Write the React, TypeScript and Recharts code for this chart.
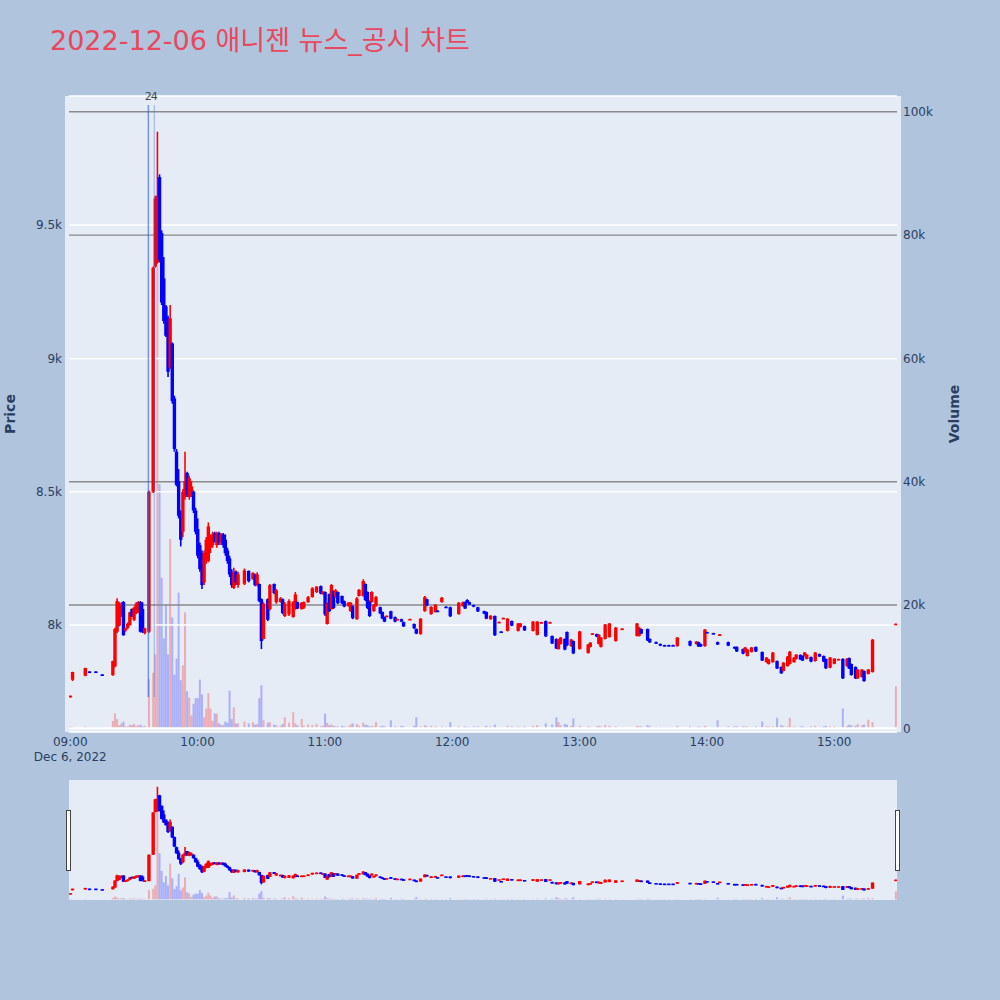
import React from "react";
import { Bar, CartesianGrid, ComposedChart, ReferenceLine, XAxis, YAxis } from "recharts";

// [minute after 09:00, open, high, low, close, volume]
type Row = [number, number, number, number, number, number];

const h09: Row[] = [
  [0, 7730, 7736, 7728, 7735, 300], [1, 7795, 7825, 7790, 7824, 200], [7, 7810, 7840, 7808, 7839, 300],
  [9, 7826, 7827, 7820, 7822, 100], [12, 7826, 7827, 7822, 7823, 100], [15, 7815, 7816, 7810, 7812, 100],
  [20, 7812, 7866, 7810, 7865, 1200], [21, 7845, 7990, 7842, 7985, 2400], [22, 7975, 8101, 7970, 8090, 1500],
  [23, 7998, 8086, 7995, 8080, 500], [24, 8040, 8086, 8030, 8080, 800], [25, 8086, 8090, 7960, 7962, 1100],
  [26, 7980, 7990, 7975, 7988, 300], [27, 7990, 8010, 7985, 8005, 300], [28, 8000, 8050, 7998, 8048, 600],
  [29, 8060, 8062, 8030, 8032, 500], [30, 8020, 8070, 8015, 8065, 700], [31, 8045, 8086, 8040, 8080, 400],
  [32, 8050, 8090, 8045, 8086, 500], [33, 8086, 8090, 7972, 7975, 600], [34, 8060, 8086, 7970, 7980, 300],
  [35, 7970, 7990, 7965, 7988, 400], [37, 7975, 8505, 7970, 8500, 8000], [39, 8500, 9345, 8495, 9340, 9000],
  [40, 9345, 9610, 9340, 9600, 12000], [41, 9360, 9850, 9355, 9610, 75000], [42, 9680, 9690, 9360, 9370, 39600],
  [43, 9470, 9480, 9200, 9210, 24400], [44, 9300, 9380, 9130, 9140, 14600], [45, 9195, 9200, 9080, 9085, 20000],
  [46, 9150, 9160, 8930, 8950, 12000], [47, 8966, 9200, 8960, 9150, 30700], [48, 9056, 9060, 8830, 8840, 18000],
  [49, 8850, 8860, 8650, 8660, 8700], [50, 8650, 8660, 8520, 8525, 11300], [51, 8540, 8585, 8400, 8410, 22000],
  [52, 8420, 8430, 8295, 8320, 7800], [53, 8350, 8510, 8330, 8500, 10200], [54, 8480, 8650, 8470, 8540, 18800],
  [55, 8570, 8575, 8480, 8490, 6000], [56, 8480, 8560, 8470, 8550, 5000], [57, 8500, 8540, 8480, 8520, 2100],
  [58, 8500, 8505, 8420, 8430, 4000], [59, 8430, 8440, 8340, 8350, 4900],
];

const h10: Row[] = [
  [60, 8360, 8400, 8250, 8260, 4900], [61, 8300, 8310, 8200, 8210, 7900], [62, 8270, 8280, 8135, 8150, 5500],
  [63, 8160, 8280, 8150, 8270, 1800], [64, 8240, 8330, 8230, 8320, 3200], [65, 8240, 8385, 8235, 8370, 5700],
  [66, 8290, 8340, 8270, 8330, 3200], [67, 8300, 8350, 8290, 8340, 1200], [68, 8345, 8350, 8310, 8315, 2400],
  [69, 8300, 8350, 8290, 8340, 2400], [70, 8345, 8350, 8300, 8310, 800], [71, 8310, 8345, 8300, 8340, 600],
  [72, 8340, 8345, 8290, 8300, 500], [73, 8320, 8340, 8260, 8270, 1100], [74, 8280, 8290, 8230, 8240, 900],
  [75, 8250, 8260, 8180, 8190, 6100], [76, 8200, 8210, 8140, 8150, 1500], [77, 8140, 8215, 8135, 8200, 3400],
  [78, 8200, 8205, 8150, 8160, 800], [79, 8150, 8200, 8140, 8190, 800], [82, 8155, 8212, 8150, 8205, 1100],
  [84, 8203, 8205, 8160, 8165, 800], [86, 8172, 8198, 8170, 8195, 1000], [87, 8190, 8192, 8146, 8150, 600],
  [88, 8150, 8198, 8146, 8190, 700], [89, 8154, 8156, 8086, 8090, 4900], [90, 8097, 8100, 7910, 7940, 7000],
  [91, 7948, 8086, 7946, 8080, 1300], [93, 8097, 8100, 8015, 8020, 900], [94, 8060, 8154, 8055, 8150, 1000],
  [96, 8154, 8156, 8116, 8120, 600], [97, 8086, 8135, 8080, 8130, 500], [99, 8086, 8105, 8084, 8100, 400],
  [100, 8097, 8100, 8041, 8045, 700], [101, 8034, 8086, 8030, 8080, 1800], [103, 8040, 8097, 8034, 8090, 900],
  [105, 8030, 8090, 8028, 8085, 2600], [106, 8060, 8124, 8058, 8115, 800], [107, 8086, 8088, 8060, 8062, 500],
  [109, 8060, 8086, 8058, 8084, 1500], [110, 8065, 8088, 8060, 8086, 400], [112, 8086, 8109, 8084, 8105, 600],
  [114, 8105, 8142, 8103, 8138, 500], [116, 8124, 8146, 8120, 8144, 700], [118, 8146, 8148, 8116, 8118, 300],
  [119, 8116, 8127, 8114, 8126, 400],
];

const h11: Row[] = [
  [120, 8124, 8126, 8034, 8040, 2400], [121, 8004, 8086, 8002, 8080, 900], [122, 8116, 8118, 8049, 8052, 500],
  [123, 8060, 8154, 8058, 8150, 600], [124, 8127, 8130, 8060, 8064, 400], [125, 8105, 8135, 8103, 8130, 300],
  [126, 8124, 8126, 8079, 8082, 300], [128, 8109, 8111, 8079, 8082, 400], [129, 8090, 8092, 8067, 8070, 300],
  [131, 8071, 8086, 8069, 8084, 300], [132, 8052, 8086, 8050, 8084, 600], [133, 8071, 8074, 8022, 8026, 800],
  [135, 8022, 8105, 8020, 8100, 700], [136, 8109, 8135, 8107, 8132, 400], [138, 8109, 8172, 8107, 8165, 900],
  [139, 8154, 8156, 8090, 8094, 600], [140, 8124, 8126, 8060, 8064, 500], [141, 8090, 8092, 8030, 8034, 300],
  [142, 8086, 8127, 8084, 8124, 400], [143, 8052, 8079, 8050, 8076, 300], [144, 8071, 8109, 8069, 8105, 1000],
  [146, 8067, 8069, 8041, 8044, 300], [147, 8049, 8051, 8022, 8025, 400], [148, 8030, 8032, 8011, 8013, 300],
  [149, 8032, 8036, 8031, 8035, 100], [151, 8052, 8054, 8022, 8024, 1300], [153, 8030, 8032, 8011, 8013, 300],
  [154, 8020, 8024, 8019, 8023, 100], [156, 8022, 8024, 8011, 8013, 400], [157, 8011, 8013, 7993, 7995, 300],
  [160, 8020, 8024, 8019, 8023, 100], [162, 8004, 8006, 7985, 7988, 400], [163, 7985, 7987, 7966, 7968, 1800],
  [165, 7966, 8026, 7964, 8024, 300], [167, 8052, 8109, 8050, 8105, 500], [168, 8097, 8099, 8071, 8074, 300],
  [170, 8041, 8071, 8039, 8068, 400], [172, 8049, 8079, 8047, 8076, 300], [173, 8054, 8056, 8050, 8052, 200],
  [175, 8086, 8105, 8084, 8103, 300], [177, 8069, 8071, 8065, 8066, 200], [179, 8067, 8069, 8030, 8033, 1000],
];

const h12: Row[] = [
  [183, 8041, 8086, 8039, 8084, 300], [185, 8071, 8088, 8069, 8086, 200], [186, 8086, 8088, 8060, 8062, 300],
  [187, 8094, 8097, 8082, 8084, 200], [188, 8086, 8088, 8075, 8077, 200], [190, 8075, 8077, 8067, 8069, 300],
  [192, 8067, 8069, 8049, 8051, 300], [195, 8052, 8054, 8041, 8043, 200], [196, 8049, 8051, 8022, 8024, 400],
  [198, 8022, 8037, 8020, 8035, 300], [200, 8034, 8036, 7959, 7962, 600], [202, 8010, 8013, 8009, 8012, 100],
  [203, 7976, 7977, 7972, 7973, 100], [204, 8024, 8028, 8023, 8027, 100], [206, 7978, 8026, 7976, 8024, 400],
  [208, 8015, 8017, 7996, 7998, 300], [211, 7978, 8008, 7976, 8006, 300], [212, 7993, 8008, 7991, 8006, 200],
  [214, 7996, 7998, 7978, 7980, 300], [218, 7978, 8015, 7976, 8013, 400], [220, 7963, 8015, 7961, 8013, 500],
  [222, 8008, 8012, 8007, 8011, 100], [224, 8015, 8017, 7955, 7958, 800], [226, 8008, 8012, 8007, 8011, 100],
  [227, 7959, 7961, 7929, 7931, 600], [229, 7948, 7950, 7910, 7912, 1800], [230, 7910, 7948, 7908, 7946, 1000],
  [231, 7929, 7955, 7927, 7953, 500], [233, 7948, 7950, 7906, 7908, 700], [234, 7974, 7976, 7921, 7924, 600],
  [236, 7921, 7948, 7919, 7946, 400], [237, 7940, 7942, 7891, 7894, 1600],
];

const h13: Row[] = [
  [240, 7910, 7978, 7908, 7976, 400], [244, 7895, 7929, 7893, 7927, 300], [245, 7918, 7936, 7916, 7934, 200],
  [246, 7966, 7970, 7965, 7969, 100], [248, 7966, 7968, 7955, 7957, 300], [249, 7929, 7966, 7927, 7964, 400],
  [250, 7918, 7955, 7916, 7953, 300], [252, 7948, 8004, 7946, 8002, 500], [254, 7955, 8008, 7953, 8006, 400],
  [257, 7940, 7993, 7938, 7990, 300], [260, 7985, 7988, 7984, 7987, 100], [267, 7959, 8008, 7957, 8006, 400],
  [268, 7959, 7993, 7957, 7990, 300], [269, 7985, 7987, 7966, 7968, 300], [272, 7985, 7987, 7940, 7942, 500],
  [273, 7948, 7950, 7933, 7935, 300], [276, 7936, 7938, 7929, 7931, 200], [278, 7929, 7931, 7921, 7923, 200],
  [280, 7925, 7926, 7921, 7922, 200], [282, 7925, 7926, 7921, 7922, 200], [284, 7925, 7926, 7922, 7923, 100],
  [286, 7921, 7955, 7919, 7953, 400], [292, 7940, 7942, 7921, 7923, 300], [295, 7929, 7940, 7927, 7938, 200],
  [296, 7936, 7938, 7918, 7920, 300], [297, 7929, 7931, 7918, 7920, 200], [299, 7921, 7985, 7919, 7983, 400],
];

const h14: Row[] = [
  [300, 7974, 7975, 7971, 7972, 100], [303, 7970, 7971, 7967, 7968, 100], [305, 7936, 7938, 7925, 7927, 1300],
  [306, 7962, 7966, 7961, 7965, 100], [310, 7936, 7938, 7921, 7923, 300], [313, 7918, 7920, 7910, 7912, 300],
  [314, 7918, 7920, 7899, 7901, 300], [317, 7910, 7912, 7891, 7893, 300], [318, 7899, 7918, 7897, 7916, 300],
  [319, 7884, 7910, 7882, 7908, 300], [321, 7899, 7918, 7897, 7916, 200], [323, 7918, 7920, 7899, 7901, 300],
  [326, 7899, 7901, 7865, 7867, 1100], [328, 7861, 7880, 7859, 7878, 300], [329, 7854, 7873, 7852, 7871, 300],
  [331, 7861, 7899, 7859, 7897, 300], [333, 7865, 7867, 7835, 7837, 1700], [335, 7843, 7845, 7817, 7819, 500],
  [336, 7828, 7861, 7826, 7859, 400], [338, 7846, 7884, 7844, 7882, 300], [339, 7854, 7903, 7852, 7900, 1700],
  [341, 7861, 7880, 7859, 7878, 300], [342, 7873, 7891, 7871, 7889, 200], [344, 7888, 7890, 7869, 7871, 300],
  [345, 7884, 7886, 7865, 7867, 300], [346, 7884, 7899, 7882, 7897, 200], [347, 7873, 7891, 7871, 7889, 200],
  [349, 7880, 7882, 7861, 7863, 300], [351, 7865, 7899, 7863, 7897, 400], [353, 7891, 7893, 7880, 7882, 200],
  [355, 7884, 7886, 7861, 7863, 300], [356, 7873, 7875, 7835, 7838, 400], [358, 7840, 7880, 7838, 7878, 300],
];

const h15: Row[] = [
  [360, 7855, 7876, 7853, 7874, 300], [362, 7871, 7874, 7870, 7873, 100], [364, 7873, 7876, 7798, 7800, 3200],
  [366, 7846, 7876, 7844, 7874, 400], [367, 7876, 7878, 7835, 7837, 600], [368, 7854, 7856, 7810, 7813, 500],
  [370, 7843, 7845, 7798, 7800, 400], [371, 7800, 7835, 7798, 7833, 700], [373, 7805, 7835, 7803, 7833, 500],
  [374, 7828, 7830, 7787, 7790, 600], [376, 7817, 7835, 7815, 7833, 1400], [378, 7824, 7948, 7822, 7945, 1000],
  [389, 8002, 8006, 8001, 8005, 6800],
];

const priceTicks = [8000, 8500, 9000, 9500];
const volumeTicks = [0, 20000, 40000, 60000, 80000, 100000];
const timeTicks = [0, 60, 120, 180, 240, 300, 360];
const timeLabels = ["09:00", "10:00", "11:00", "12:00", "13:00", "14:00", "15:00"];
const dateLabel = "Dec 6, 2022";
const newsMinutes = [36.8, 39.6];
const newsLabels = ["2", "4"];
const newsColors = ["rgba(40, 90, 230, 0.6)", "rgba(40, 90, 230, 0.3)"];
const NEWS_TOP = 9950;
const NEWS_BOTTOM = 7730;

const title = "2022-12-06 애니젠 뉴스_공시 차트";

const TIME_DOMAIN: [number, number] = [-0.6, 389.6];
const PRICE_DOMAIN: [number, number] = [7599, 9984];
const VOL_DOMAIN: [number, number] = [-600, 102560];

const FONT = '"DejaVu Sans", "Noto Sans CJK KR", sans-serif';
const INK = "#2a3f5f";
const UP = "#ff0000";
const DOWN = "#0000ff";
const VOL_UP = "rgba(255, 0, 0, 0.27)";
const VOL_DOWN = "rgba(0, 0, 255, 0.25)";

const candles = [...h09, ...h10, ...h11, ...h12, ...h13, ...h14, ...h15].map(
  ([t, open, high, low, close, volume]) => ({ t, open, high, low, close, volume, up: close >= open })
);

function Candle(props: any) {
  const { x, y, width, height, payload } = props;
  if (x == null || y == null || !payload) return null;
  const { open, high, low, close, up } = payload;
  const top = Math.min(y, y + height);
  const span = Math.abs(height);
  const range = high - low;
  const py = (v: number) => (range > 0 ? top + ((high - v) / range) * span : top);
  const cx = x + width / 2;
  const color = up ? UP : DOWN;
  const bodyTop = py(Math.max(open, close));
  const bodyBottom = py(Math.min(open, close));
  return (
    <g>
      <line x1={cx} x2={cx} y1={top} y2={top + span} stroke={color} strokeWidth={1.6} />
      <rect x={cx - 1.7} y={bodyTop} width={3.4} height={Math.max(1.6, bodyBottom - bodyTop)} fill={color} />
    </g>
  );
}

function VolumeBar(props: any) {
  const { x, y, width, height, payload } = props;
  if (x == null || y == null || !payload) return null;
  const cx = x + width / 2;
  return (
    <rect
      x={cx - 1}
      y={Math.min(y, y + height)}
      width={2}
      height={Math.abs(height)}
      fill={payload.up ? VOL_UP : VOL_DOWN}
    />
  );
}

function TimeTick({ x, y, payload }: any) {
  const i = timeTicks.indexOf(payload.value);
  return (
    <g>
      <text x={x} y={y + 14} textAnchor="middle" fill={INK} fontSize={12} fontFamily={FONT}>
        {timeLabels[i]}
      </text>
      {i === 0 && (
        <text x={x} y={y + 29} textAnchor="middle" fill={INK} fontSize={12} fontFamily={FONT}>
          {dateLabel}
        </text>
      )}
    </g>
  );
}

const fmtPrice = (v: number) => `${v / 1000}k`;
const fmtVolume = (v: number) => (v === 0 ? "0" : `${v / 1000}k`);

function VolumeLayer({ height, mini }: { height: number; mini?: boolean }) {
  const margin = mini
    ? { top: 0, right: 103, bottom: 0, left: 69 }
    : { top: 96, right: 43, bottom: 48, left: 69 };
  return (
    <ComposedChart width={1000} height={height} data={candles} margin={margin}>
      <XAxis type="number" dataKey="t" domain={TIME_DOMAIN} allowDataOverflow hide />
      <YAxis
        yAxisId="vol"
        orientation="right"
        domain={VOL_DOMAIN}
        ticks={volumeTicks}
        allowDataOverflow
        hide={mini}
        width={60}
        axisLine={false}
        tickLine={false}
        tickSize={0}
        tickMargin={6}
        tickFormatter={fmtVolume}
        tick={{ fill: INK, fontSize: 12, fontFamily: FONT, textAnchor: "start" }}
      />
      {!mini &&
        volumeTicks.map((v) => (
          <ReferenceLine
            key={v}
            yAxisId="vol"
            y={v}
            stroke={v === 0 ? "#ffffff" : "#8a8a8a"}
            strokeWidth={v === 0 ? 2 : 1.4}
          />
        ))}
      <Bar yAxisId="vol" dataKey="volume" shape={<VolumeBar />} isAnimationActive={false} />
    </ComposedChart>
  );
}

function PriceLayer({ height, mini }: { height: number; mini?: boolean }) {
  const margin = mini
    ? { top: 0, right: 103, bottom: 0, left: 69 }
    : { top: 96, right: 103, bottom: 18, left: 19 };
  return (
    <ComposedChart width={1000} height={height} data={candles} margin={margin}>
      {!mini && <CartesianGrid vertical={false} stroke="#ffffff" strokeWidth={1.6} />}
      <XAxis
        type="number"
        dataKey="t"
        domain={TIME_DOMAIN}
        ticks={timeTicks}
        allowDataOverflow
        interval={0}
        hide={mini}
        height={30}
        axisLine={false}
        tickLine={false}
        tickSize={0}
        tickMargin={0}
        tick={<TimeTick />}
      />
      <YAxis
        domain={PRICE_DOMAIN}
        ticks={priceTicks}
        allowDataOverflow
        hide={mini}
        width={50}
        axisLine={false}
        tickLine={false}
        tickSize={0}
        tickMargin={7}
        tickFormatter={fmtPrice}
        tick={{ fill: INK, fontSize: 12, fontFamily: FONT }}
      />
      {!mini &&
        newsMinutes.map((t, i) => (
          <ReferenceLine
            key={t}
            segment={[
              { x: t, y: NEWS_TOP },
              { x: t, y: NEWS_BOTTOM },
            ]}
            stroke={newsColors[i]}
            strokeWidth={1.5}
            ifOverflow="visible"
            label={{ value: newsLabels[i], position: "top", fill: "#444", fontSize: 11, fontFamily: FONT }}
          />
        ))}
      <Bar dataKey={(d: any) => [d.low, d.high]} shape={<Candle />} isAnimationActive={false} />
    </ComposedChart>
  );
}

const layer: React.CSSProperties = { position: "absolute", left: 0 };
const handle: React.CSSProperties = {
  position: "absolute",
  top: 810,
  width: 3,
  height: 59,
  background: "#ffffff",
  border: "1px solid #444",
};

export default function App() {
  return (
    <div
      style={{
        position: "absolute",
        left: 0,
        top: 0,
        width: 1000,
        height: 1000,
        background: "#B0C4DE",
        overflow: "hidden",
        fontFamily: FONT,
      }}
    >
      <svg width={1000} height={1000} style={{ position: "absolute", left: 0, top: 0 }}>
        <rect x={65} y={96} width={836} height={636} fill="#E5ECF6" />
        <rect x={69} y={780} width={828} height={120} fill="#E5ECF6" />
        <text x={50} y={50} fontSize={27} fill="#E9485C" fontFamily={FONT}>
          {title}
        </text>
        <text
          transform="translate(15,414) rotate(-90)"
          textAnchor="middle"
          fontWeight="bold"
          fontSize={14}
          fill={INK}
          fontFamily={FONT}
        >
          Price
        </text>
        <text
          transform="translate(959,414) rotate(-90)"
          textAnchor="middle"
          fontWeight="bold"
          fontSize={14}
          fill={INK}
          fontFamily={FONT}
        >
          Volume
        </text>
      </svg>
      <div style={{ ...layer, top: 0 }}>
        <VolumeLayer height={780} />
      </div>
      <div style={{ ...layer, top: 0 }}>
        <PriceLayer height={780} />
      </div>
      <div style={{ ...layer, top: 780 }}>
        <VolumeLayer height={120} mini />
      </div>
      <div style={{ ...layer, top: 780 }}>
        <PriceLayer height={120} mini />
      </div>
      <div style={{ ...handle, left: 66 }} />
      <div style={{ ...handle, left: 895 }} />
    </div>
  );
}
